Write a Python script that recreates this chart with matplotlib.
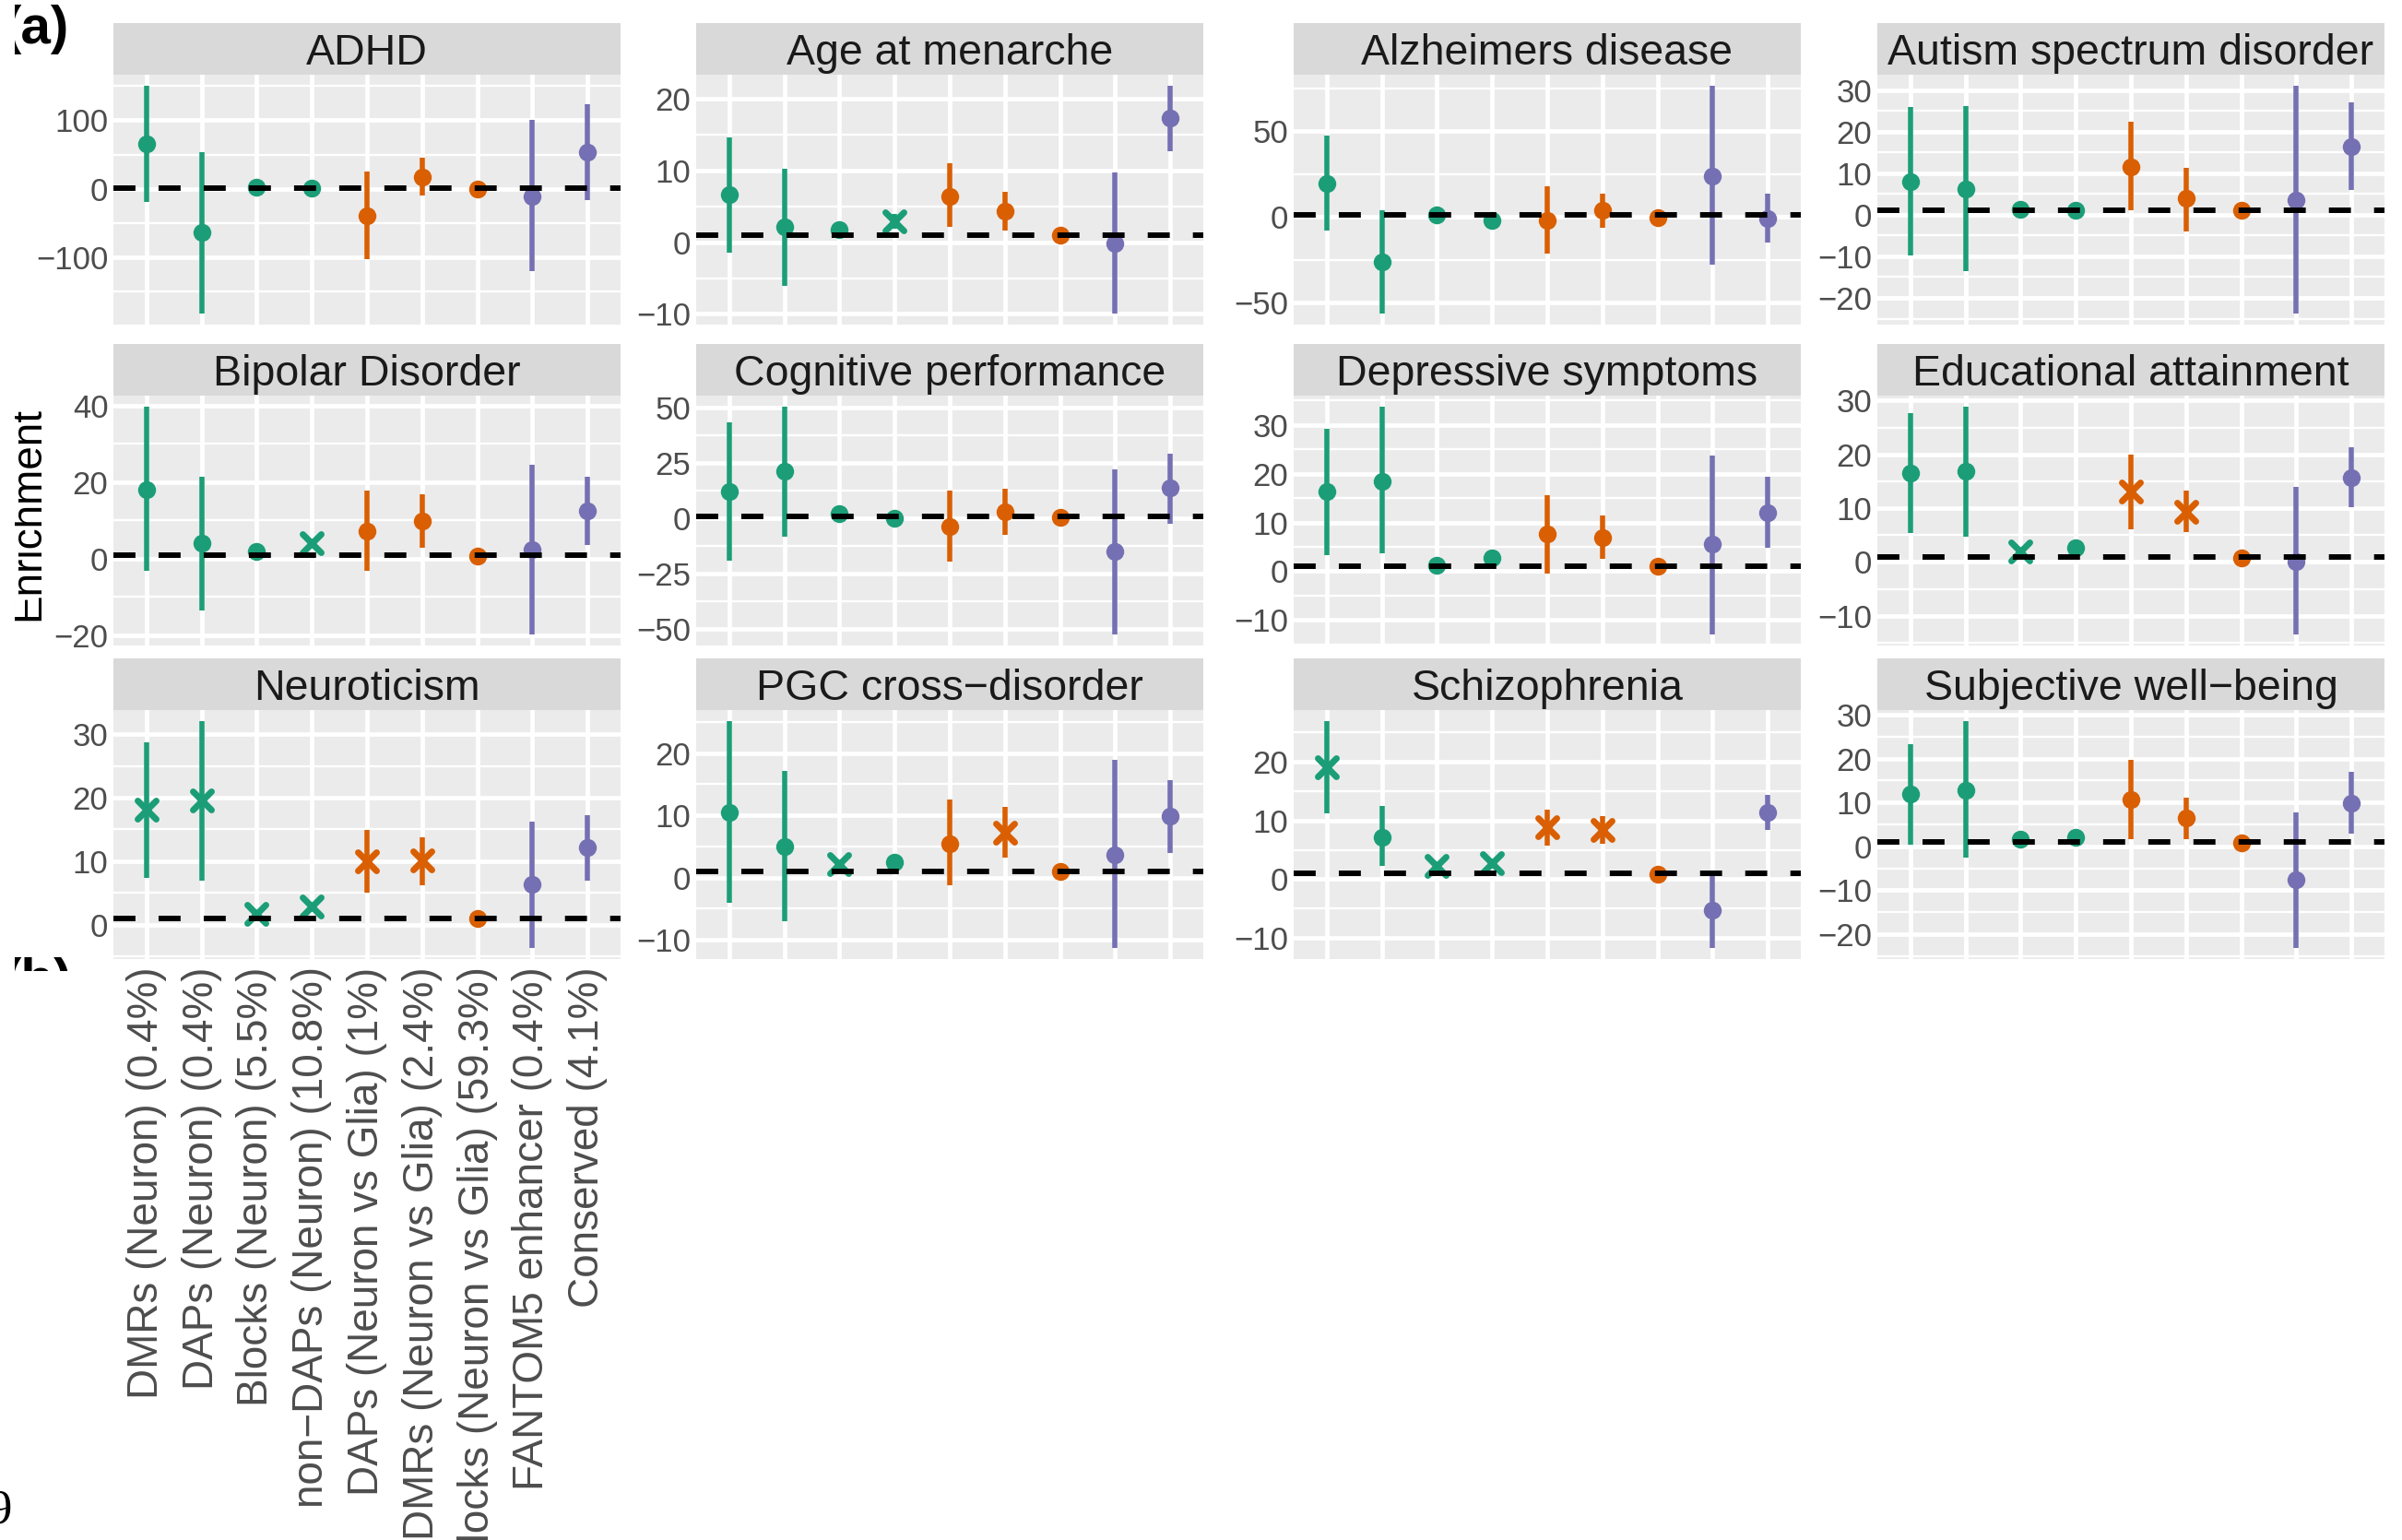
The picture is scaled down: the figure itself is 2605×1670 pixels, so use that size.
import numpy as np
import matplotlib
matplotlib.use('Agg')
import matplotlib.pyplot as plt
from matplotlib.markers import MarkerStyle
from matplotlib.patches import Rectangle

# region labels (x axis) and the three colour groups
regions = ['DMRs (Neuron) (0.4%)', 'DAPs (Neuron) (0.4%)', 'Blocks (Neuron) (5.5%)',
           'non\u2212DAPs (Neuron) (10.8%)', 'DAPs (Neuron vs Glia) (1%)',
           'DMRs (Neuron vs Glia) (2.4%)', 'Blocks (Neuron vs Glia) (59.3%)',
           'FANTOM5 enhancer (0.4%)', 'Conserved (4.1%)']
region_group = [0, 0, 0, 0, 1, 1, 1, 2, 2]
group_colors = ['#1B9E77', '#D95F02', '#7570B3']

traits = ['ADHD', 'Age at menarche', 'Alzheimers disease', 'Autism spectrum disorder',
          'Bipolar Disorder', 'Cognitive performance', 'Depressive symptoms',
          'Educational attainment', 'Neuroticism', 'PGC cross\u2212disorder',
          'Schizophrenia', 'Subjective well\u2212being']

# enrichment estimate, lower / upper bound, significant (x marker)
adhd_est = [66, -64, 2, 1, -40, 17, 0, -11, 53]
adhd_lo = [-20, -182, -3, -3, -103, -10, -2, -121, -17]
adhd_hi = [150, 54, 7, 5, 25, 45, 2, 100, 124]
adhd_sig = []
adhd_ticks = [-100, 0, 100]

age_est = [6.6, 2.15, 1.8, 2.9, 6.45, 4.4, 0.95, -0.1, 17.3]
age_lo = [-1.5, -6.1, 1.2, 1.9, 2.1, 1.6, 0.7, -9.9, 12.7]
age_hi = [14.6, 10.3, 2.4, 3.9, 11.0, 7.1, 1.2, 9.8, 21.8]
age_sig = [3]
age_ticks = [-10, 0, 10, 20]

alz_est = [19.6, -26, 1.3, -2, -2, 3.8, -0.5, 24, -0.9]
alz_lo = [-8.1, -56.2, -1, -4, -21.4, -6.3, -2, -27.8, -14.9]
alz_hi = [47.4, 4.0, 3.5, 0, 18.1, 13.3, 1, 76.3, 13.3]
alz_sig = []
alz_ticks = [-50, 0, 50]

asd_est = [8.0, 6.3, 1.3, 1.1, 11.6, 3.9, 1.0, 3.6, 16.5]
asd_lo = [-9.8, -13.6, 0.6, 0.5, 1.0, -3.9, 0.6, -23.7, 5.9]
asd_hi = [25.9, 26.2, 2.0, 1.7, 22.4, 11.4, 1.4, 31.0, 27.0]
asd_sig = []
asd_ticks = [-20, -10, 0, 10, 20, 30]

bip_est = [18.1, 4.0, 2.0, 4.0, 7.2, 9.9, 0.6, 2.4, 12.4]
bip_lo = [-3.2, -13.4, 1.2, 3.0, -3.2, 2.8, 0.2, -19.7, 3.6]
bip_hi = [39.6, 21.4, 2.8, 5.0, 17.8, 16.9, 1.0, 24.5, 21.3]
bip_sig = [3]
bip_ticks = [-20, 0, 20, 40]

cog_est = [12.2, 21.1, 2.1, -0.1, -3.75, 2.8, 0.3, -14.9, 13.6]
cog_lo = [-19.0, -8.3, 0.5, -1.5, -19.7, -7.6, -0.5, -52.4, -2.4]
cog_hi = [43.5, 50.3, 3.7, 1.3, 12.4, 13.2, 1.1, 22.2, 29.2]
cog_sig = []
cog_ticks = [-50, -25, 0, 25, 50]

dep_est = [16.3, 18.4, 1.3, 2.65, 7.6, 6.9, 0.95, 5.5, 12.1]
dep_lo = [3.3, 3.6, 0.8, 2.0, -0.5, 2.5, 0.7, -12.9, 4.9]
dep_hi = [29.3, 33.7, 1.8, 3.3, 15.6, 11.5, 1.2, 23.8, 19.4]
dep_sig = []
dep_ticks = [-10, 0, 10, 20, 30]

edu_est = [16.6, 16.8, 2.0, 2.7, 13.1, 9.3, 0.8, 0.1, 15.7]
edu_lo = [5.4, 4.7, 1.6, 2.2, 6.1, 5.5, 0.6, -13.4, 10.1]
edu_hi = [27.7, 28.8, 2.4, 3.2, 19.9, 13.3, 1.0, 13.9, 21.3]
edu_sig = [2, 4, 5]
edu_ticks = [-10, 0, 10, 20, 30]

neu_est = [18.1, 19.5, 1.7, 2.9, 10.0, 10.1, 1.0, 6.3, 12.1]
neu_lo = [7.4, 6.9, 1.3, 2.4, 5.1, 6.2, 0.8, -3.6, 6.9]
neu_hi = [28.7, 32.0, 2.1, 3.4, 14.9, 13.8, 1.2, 16.2, 17.3]
neu_sig = [0, 1, 2, 3, 4, 5]
neu_ticks = [0, 10, 20, 30]

pgc_est = [10.5, 5.0, 2.1, 2.4, 5.4, 7.2, 1.0, 3.7, 9.8]
pgc_lo = [-4.1, -7.0, 1.6, 1.9, -1.3, 3.2, 0.8, -11.3, 4.0]
pgc_hi = [25.1, 17.2, 2.6, 2.9, 12.5, 11.3, 1.2, 18.9, 15.6]
pgc_sig = [2, 5]
pgc_ticks = [-10, 0, 10, 20]

scz_est = [19.1, 7.2, 2.2, 2.8, 8.9, 8.4, 0.8, -5.3, 11.35]
scz_lo = [11.25, 2.2, 1.8, 2.4, 5.7, 6.0, 0.6, -11.7, 8.4]
scz_hi = [26.9, 12.4, 2.6, 3.2, 11.9, 10.7, 1.0, 0.6, 14.3]
scz_sig = [0, 2, 3, 4, 5]
scz_ticks = [-10, 0, 10, 20]

swb_est = [11.9, 12.8, 1.7, 2.0, 10.7, 6.4, 0.8, -7.5, 9.9]
swb_lo = [0.3, -2.6, 1.2, 1.5, 1.7, 1.7, 0.6, -23.1, 2.9]
swb_hi = [23.4, 28.5, 2.2, 2.5, 19.8, 11.2, 1.0, 7.8, 17.0]
swb_sig = []
swb_ticks = [-20, -10, 0, 10, 20, 30]

panels = [
    (adhd_est, adhd_lo, adhd_hi, adhd_sig, adhd_ticks),
    (age_est, age_lo, age_hi, age_sig, age_ticks),
    (alz_est, alz_lo, alz_hi, alz_sig, alz_ticks),
    (asd_est, asd_lo, asd_hi, asd_sig, asd_ticks),
    (bip_est, bip_lo, bip_hi, bip_sig, bip_ticks),
    (cog_est, cog_lo, cog_hi, cog_sig, cog_ticks),
    (dep_est, dep_lo, dep_hi, dep_sig, dep_ticks),
    (edu_est, edu_lo, edu_hi, edu_sig, edu_ticks),
    (neu_est, neu_lo, neu_hi, neu_sig, neu_ticks),
    (pgc_est, pgc_lo, pgc_hi, pgc_sig, pgc_ticks),
    (scz_est, scz_lo, scz_hi, scz_sig, scz_ticks),
    (swb_est, swb_lo, swb_hi, swb_sig, swb_ticks),
]

W, H = 2605, 1670
plt.rcParams['font.family'] = ['Liberation Sans', 'DejaVu Sans']
fig = plt.figure(figsize=(W / 100, H / 100), dpi=100)


def fx(px):
    return px / W


def fy(py):
    return 1 - py / H


def lab(v):
    s = ('%g' % v)
    return s.replace('-', '\u2212')


col_x = [123, 755, 1403, 2036]
row_y = [(25, 81, 352), (373, 429, 700), (714, 770, 1040)]
pw = 550
x = np.arange(1, 10)
cols = [group_colors[g] for g in region_group]
xmark = MarkerStyle('x', capstyle='round')

for i, (est, lo, hi, sig, ticks) in enumerate(panels):
    r, c = divmod(i, 4)
    top_s, top_p, bot_p = row_y[r]
    ax = fig.add_axes([fx(col_x[c]), fy(bot_p), pw / W, (bot_p - top_p) / H])
    sax = fig.add_axes([fx(col_x[c]), fy(top_p), pw / W, (top_p - top_s) / H])

    # strip
    sax.set_facecolor('#D9D9D9')
    sax.set_xticks([])
    sax.set_yticks([])
    for s in sax.spines.values():
        s.set_visible(False)
    sax.text(0.5, 0.2, traits[i], ha='center', va='baseline', fontsize=33.5,
             color='#1A1A1A', transform=sax.transAxes)

    # y range like ggplot (5% expansion, hline at 1 included)
    ymin = min(min(lo), 1)
    ymax = max(max(hi), 1)
    pad = (ymax - ymin) * 0.05
    ax.set_ylim(ymin - pad, ymax + pad)
    ax.set_xlim(0.4, 9.6)

    step = ticks[1] - ticks[0]
    minors = np.arange(ticks[0] - step / 2, ticks[-1] + step, step)
    minors = [m for m in minors if ymin - pad <= m <= ymax + pad]

    ax.set_facecolor('#EBEBEB')
    ax.set_axisbelow(True)
    ax.set_yticks(ticks)
    ax.set_yticklabels([lab(t) for t in ticks])
    ax.set_yticks(minors, minor=True)
    ax.set_xticks(x)
    ax.grid(which='major', color='white', lw=3.4)
    ax.grid(which='minor', axis='y', color='white', lw=1.7)
    ax.tick_params(which='both', length=0)
    ax.tick_params(axis='y', labelsize=25, labelcolor='#4D4D4D', pad=4)
    for s in ax.spines.values():
        s.set_visible(False)

    if i == 8:
        ax.set_xticklabels(regions, rotation=90, fontsize=33, color='#4D4D4D')
        ax.tick_params(axis='x', pad=6)
    else:
        ax.set_xticklabels([])

    ax.vlines(x, lo, hi, colors=cols, lw=4.0, zorder=3)
    for k in range(9):
        if k in sig:
            ax.plot(x[k], est[k], marker=xmark, color=cols[k], ms=15, mew=5,
                    ls='none', zorder=4)
        else:
            ax.plot(x[k], est[k], marker='o', color=cols[k], ms=14, mew=0,
                    ls='none', zorder=4)
    ax.axhline(1, color='black', lw=4.3, ls=(0, (4, 4.2)), zorder=5,
               dash_capstyle='butt')

# y axis title and panel letters (left edge of the crop)
fig.text(fx(52), fy(557), 'Enrichment', rotation=90, ha='right', va='center',
         fontsize=33, color='black', zorder=1)
fig.text(fx(3), fy(5), '(a)', fontweight='bold', fontsize=42, ha='left', va='top',
         zorder=1)
fig.text(fx(3), fy(1038), '(b)', fontweight='bold', fontsize=42, ha='left', va='top',
         zorder=1)
fig.text(fx(13), fy(1638), '9', family=['Liberation Serif', 'DejaVu Serif'],
         fontsize=38, ha='right', va='center', zorder=1)

fig.patches.append(Rectangle((0, fy(1100)), fx(16), 1100 / H, facecolor='white',
                             edgecolor='none', transform=fig.transFigure, zorder=10))
fig.patches.append(Rectangle((0, fy(1610)), fx(110), (1610 - 1053) / H,
                             facecolor='white', edgecolor='none',
                             transform=fig.transFigure, zorder=10))

fig.savefig('out.png', dpi=100)
